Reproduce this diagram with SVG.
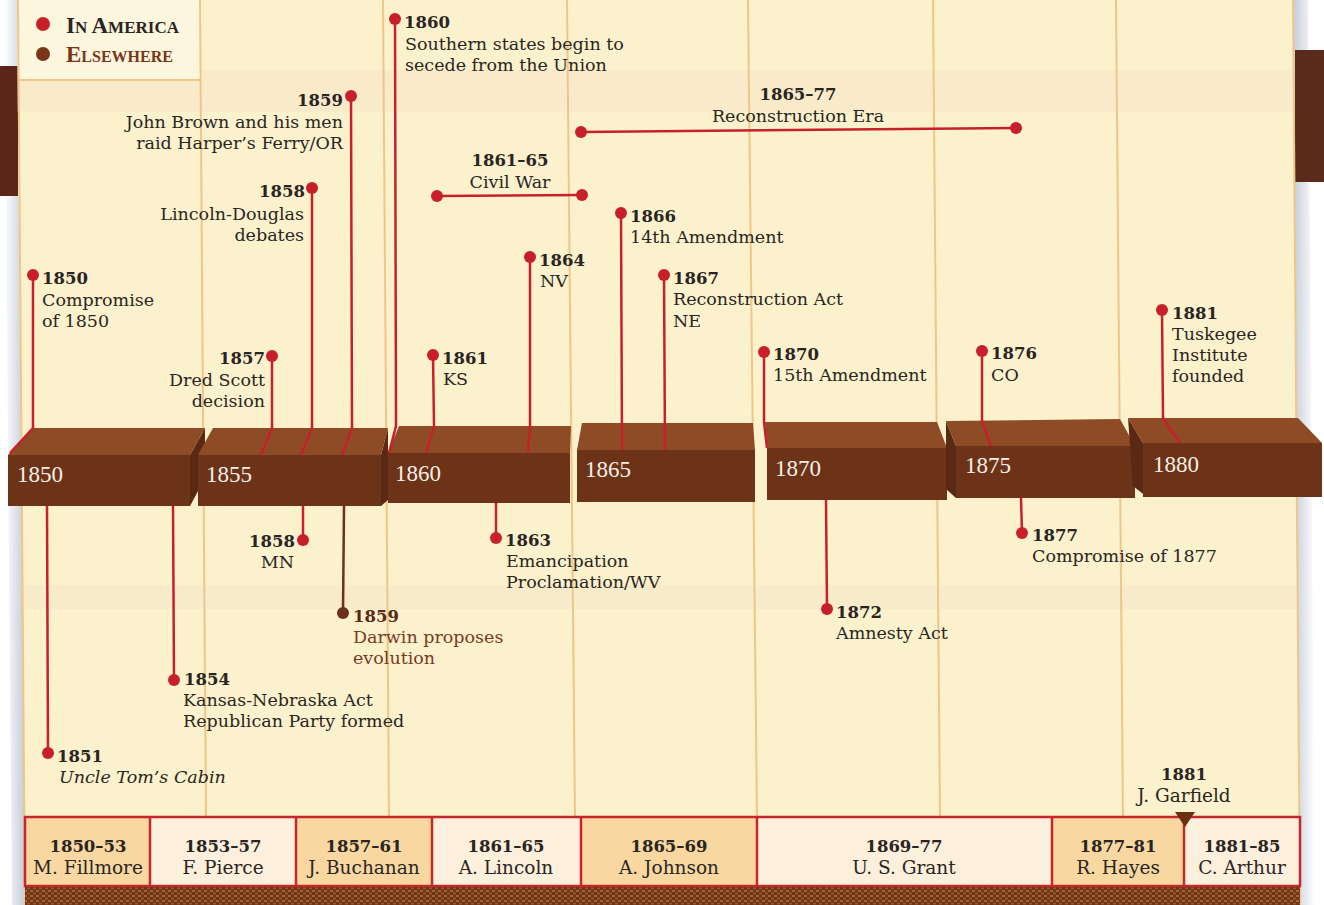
<svg xmlns="http://www.w3.org/2000/svg" width="1324" height="905" viewBox="0 0 1324 905">
<defs>
<style>
.t{font-family:'DejaVu Serif','Liberation Serif',serif;font-size:17.5px;fill:#2a2522}
.i{font-style:italic}
.y{font-family:'DejaVu Serif','Liberation Serif',serif;font-size:16.5px;font-weight:bold;fill:#2a2522}
.e{text-anchor:end}
.m{text-anchor:middle}
.bl{font-family:'Liberation Serif','Times New Roman',serif;font-size:23px;fill:#f7f0e6}
.dot{fill:#c8202a}
.con line,.con polyline{stroke:#c8202a;stroke-width:2.5;fill:none}
.con .br{stroke:#6e2f1c}
.grid line{stroke:#f0c687;stroke-width:2}
.top{fill:#8d4b26}
.front{fill:#6c3318}
.side{fill:#5a2914}
.pc{stroke:#c9262c;stroke-width:2.5}
.po{fill:#f8d8a0}
.pl{fill:#fcefdb}
.py{font-family:'DejaVu Serif','Liberation Serif',serif;font-size:16.5px;font-weight:bold;fill:#2a2522;text-anchor:middle}
.pn{font-family:'DejaVu Serif','Liberation Serif',serif;font-size:18.5px;fill:#2a2522;text-anchor:middle}
.leg{font-family:'Liberation Serif','Times New Roman',serif;font-size:23px;font-weight:bold}
</style>
<pattern id="weave" width="6" height="5" patternUnits="userSpaceOnUse"><rect width="6" height="5" fill="#6f3417"/><rect x="0" y="0" width="3" height="2" fill="#a5662f"/><rect x="3" y="2.5" width="3" height="2" fill="#93552a"/></pattern>
<linearGradient id="lsh" x1="0" x2="1"><stop offset="0" stop-color="#ffffff"/><stop offset="1" stop-color="#c4ccd8"/></linearGradient>
<linearGradient id="rsh" x1="0" x2="1"><stop offset="0" stop-color="#c4ccd8"/><stop offset="1" stop-color="#ffffff"/></linearGradient>
</defs>

<rect width="1324" height="905" fill="#ffffff"/>
<polygon points="4,0 17,0 25,905 12,905" fill="url(#lsh)"/>
<polygon points="1293,0 1308,0 1315,905 1300,905" fill="url(#rsh)"/>
<rect x="0" y="66" width="18" height="130" fill="#5b2619"/>
<rect x="1295" y="50" width="29" height="132" fill="#5a2a1b"/>
<polygon points="17,0 1293,0 1300,905 25,905" fill="#fbf1cd"/>
<rect x="17" y="70" width="1278" height="42" fill="#f2d5bd" opacity="0.22"/>
<rect x="20" y="585" width="1278" height="24" fill="#f2d5bd" opacity="0.2"/>
<rect x="18" y="0" width="182" height="80" fill="#fdf6df"/>
<line x1="18" y1="80" x2="200" y2="80" stroke="#f0c687" stroke-width="2"/>

<g id="grid" class="grid">
<line x1="200" y1="0" x2="206" y2="818"/>
<line x1="383" y1="0" x2="389" y2="818"/>
<line x1="567" y1="0" x2="575" y2="818"/>
<line x1="748" y1="0" x2="757" y2="818"/>
<line x1="933" y1="0" x2="940" y2="818"/>
<line x1="1116" y1="0" x2="1123" y2="818"/>
<line x1="18" y1="0" x2="25" y2="905"/>
<line x1="1293" y1="0" x2="1300" y2="905"/>
</g>

<g id="legend">
<circle cx="43" cy="24" r="7" class="dot"/>
<text x="66" y="33" class="leg" fill="#2a2522">I<tspan font-size="17">N </tspan>A<tspan font-size="17">MERICA</tspan></text>
<circle cx="43" cy="54" r="7" fill="#7a3519"/>
<text x="66" y="62" class="leg" fill="#7a3519">E<tspan font-size="16">LSEWHERE</tspan></text>
</g>

<g id="timeline">
<g id="b1850"><polygon class="side" points="190,455 205,428 205,478 190,506"/><polygon class="top" points="8,455 190,455 205,428 32,428"/><rect class="front" x="8" y="455" width="182" height="51"/><text class="bl" x="17" y="482">1850</text></g>
<g id="b1855"><polygon class="side" points="381,455 388,428 388,500 381,506"/><polygon class="top" points="198,455 381,455 388,428 213,428"/><rect class="front" x="198" y="455" width="183" height="51"/><text class="bl" x="206" y="482">1855</text></g>
<g id="b1860"><polygon class="top" points="388,453 570,453 571,426 399,426"/><rect class="front" x="388" y="453" width="182" height="50"/><text class="bl" x="395" y="481">1860</text></g>
<g id="b1865"><polygon class="top" points="577,450 755,450 753,423 582,423"/><rect class="front" x="577" y="450" width="178" height="52"/><text class="bl" x="585" y="477">1865</text></g>
<g id="b1870"><polygon class="top" points="767,448 947,448 937,422 765,422"/><rect class="front" x="767" y="448" width="180" height="52"/><text class="bl" x="775" y="476">1870</text></g>
<g id="b1875"><polygon class="side" points="946,421 956,446 956,498 946,489"/><polygon class="top" points="946,421 1120,419 1135,446 956,446"/><rect class="front" x="956" y="446" width="179" height="52"/><text class="bl" x="965" y="473">1875</text></g>
<g id="b1880"><polygon class="side" points="1128,418 1143,443 1147,497 1133,486"/><polygon class="top" points="1128,418 1298,418 1322,443 1143,443"/><rect class="front" x="1143" y="443" width="179" height="54"/><text class="bl" x="1153" y="472">1880</text></g>
</g>

<g id="connectors" class="con">
<polyline points="33,275 33,428 10,453"/>
<polyline points="272,356 272,428 261,455"/>
<polyline points="312,188 312,428 301,455"/>
<polyline points="351,96 352,428 342,455"/>
<polyline points="395,19 396,426 389,453"/>
<polyline points="433,355 434,426 426,453"/>
<line x1="437" y1="196" x2="582" y2="195"/>
<polyline points="530,257 530,426 528,453"/>
<line x1="581" y1="132" x2="1016" y2="128"/>
<polyline points="621,213 622,450"/>
<polyline points="664,275 665,450"/>
<polyline points="764,352 764,422 767,448"/>
<polyline points="982,351 982,421 991,446"/>
<polyline points="1162,310 1163,418 1180,443"/>
<line x1="47" y1="506" x2="48" y2="753"/>
<line x1="173" y1="506" x2="174" y2="680"/>
<line x1="303" y1="506" x2="303" y2="540"/>
<line class="br" x1="344" y1="506" x2="343" y2="613"/>
<line x1="496" y1="503" x2="496" y2="538"/>
<line x1="826" y1="500" x2="827" y2="609"/>
<line x1="1021" y1="498" x2="1022" y2="533"/>
</g>

<g id="n1850"><circle cx="33" cy="275" r="6" class="dot"/><text class="y" x="42" y="284">1850</text><text class="t" x="42" y="306">Compromise</text><text class="t" x="42" y="327">of 1850</text></g>
<g id="n1857"><circle cx="272" cy="356" r="6" class="dot"/><text class="y e" x="265" y="364">1857</text><text class="t e" x="265" y="386">Dred Scott</text><text class="t e" x="265" y="407">decision</text></g>
<g id="n1858a"><circle cx="312" cy="188" r="6" class="dot"/><text class="y e" x="305" y="197">1858</text><text class="t e" x="304" y="220">Lincoln-Douglas</text><text class="t e" x="304" y="241">debates</text></g>
<g id="n1859a"><circle cx="351" cy="96" r="6" class="dot"/><text class="y e" x="343" y="106">1859</text><text class="t e" x="343" y="128">John Brown and his men</text><text class="t e" x="343" y="149">raid Harper’s Ferry/OR</text></g>
<g id="n1860"><circle cx="395" cy="19" r="6" class="dot"/><text class="y" x="404" y="28">1860</text><text class="t" x="405" y="50">Southern states begin to</text><text class="t" x="405" y="71">secede from the Union</text></g>
<g id="n1861"><circle cx="433" cy="355" r="6" class="dot"/><text class="y" x="442" y="364">1861</text><text class="t" x="443" y="385">KS</text></g>
<g id="ncivilwar"><circle cx="437" cy="196" r="6" class="dot"/><circle cx="582" cy="195" r="6" class="dot"/><text class="y m" x="510" y="166">1861–65</text><text class="t m" x="510" y="188">Civil War</text></g>
<g id="n1864"><circle cx="530" cy="257" r="6" class="dot"/><text class="y" x="539" y="266">1864</text><text class="t" x="540" y="287">NV</text></g>
<g id="nreconstruction"><circle cx="581" cy="132" r="6" class="dot"/><circle cx="1016" cy="128" r="6" class="dot"/><text class="y m" x="798" y="100">1865–77</text><text class="t m" x="798" y="122">Reconstruction Era</text></g>
<g id="n1866"><circle cx="621" cy="213" r="6" class="dot"/><text class="y" x="630" y="222">1866</text><text class="t" x="630" y="243">14th Amendment</text></g>
<g id="n1867"><circle cx="664" cy="275" r="6" class="dot"/><text class="y" x="673" y="284">1867</text><text class="t" x="673" y="305">Reconstruction Act</text><text class="t" x="673" y="327">NE</text></g>
<g id="n1870"><circle cx="764" cy="352" r="6" class="dot"/><text class="y" x="773" y="360">1870</text><text class="t" x="773" y="381">15th Amendment</text></g>
<g id="n1876"><circle cx="982" cy="351" r="6" class="dot"/><text class="y" x="991" y="359">1876</text><text class="t" x="991" y="381">CO</text></g>
<g id="n1881"><circle cx="1162" cy="310" r="6" class="dot"/><text class="y" x="1172" y="319">1881</text><text class="t" x="1172" y="340">Tuskegee</text><text class="t" x="1172" y="361">Institute</text><text class="t" x="1172" y="382">founded</text></g>

<g id="n1851"><circle cx="48" cy="753" r="6" class="dot"/><text class="y" x="57" y="762">1851</text><text class="t i" x="59" y="783">Uncle Tom’s Cabin</text></g>
<g id="n1854"><circle cx="174" cy="680" r="6" class="dot"/><text class="y" x="184" y="685">1854</text><text class="t" x="183" y="706">Kansas-Nebraska Act</text><text class="t" x="183" y="727">Republican Party formed</text></g>
<g id="n1858b"><circle cx="303" cy="540" r="6" class="dot"/><text class="y e" x="295" y="547">1858</text><text class="t e" x="294" y="568">MN</text></g>
<g id="n1859b"><circle cx="343" cy="613" r="6" fill="#6e2f1c"/><text class="y" x="353" y="622" style="fill:#5b2a1a">1859</text><text class="t" x="353" y="643" style="fill:#7a3a1e">Darwin proposes</text><text class="t" x="353" y="664" style="fill:#7a3a1e">evolution</text></g>
<g id="n1863"><circle cx="496" cy="538" r="6" class="dot"/><text class="y" x="505" y="546">1863</text><text class="t" x="506" y="567">Emancipation</text><text class="t" x="506" y="588">Proclamation/WV</text></g>
<g id="n1872"><circle cx="827" cy="609" r="6" class="dot"/><text class="y" x="836" y="618">1872</text><text class="t" x="836" y="639">Amnesty Act</text></g>
<g id="n1877"><circle cx="1022" cy="533" r="6" class="dot"/><text class="y" x="1032" y="541">1877</text><text class="t" x="1032" y="562">Compromise of 1877</text></g>

<g id="presidents">
<rect class="po" x="25" y="817" width="125" height="69"/>
<rect class="pl" x="150" y="817" width="146" height="69"/>
<rect class="po" x="296" y="817" width="136" height="69"/>
<rect class="pl" x="432" y="817" width="149" height="69"/>
<rect class="po" x="581" y="817" width="176" height="69"/>
<rect class="pl" x="757" y="817" width="295" height="69"/>
<rect class="po" x="1052" y="817" width="132" height="69"/>
<rect class="pl" x="1184" y="817" width="116" height="69"/>
<rect x="25" y="817" width="1275" height="69" fill="none" class="pc"/>
<g class="pc"><line x1="150" y1="817" x2="150" y2="886"/><line x1="296" y1="817" x2="296" y2="886"/><line x1="432" y1="817" x2="432" y2="886"/><line x1="581" y1="817" x2="581" y2="886"/><line x1="757" y1="817" x2="757" y2="886"/><line x1="1052" y1="817" x2="1052" y2="886"/><line x1="1184" y1="817" x2="1184" y2="886"/></g>
<text class="py" x="88" y="852">1850–53</text><text class="pn" x="88" y="874">M. Fillmore</text>
<text class="py" x="223" y="852">1853–57</text><text class="pn" x="223" y="874">F. Pierce</text>
<text class="py" x="364" y="852">1857–61</text><text class="pn" x="364" y="874">J. Buchanan</text>
<text class="py" x="506" y="852">1861–65</text><text class="pn" x="506" y="874">A. Lincoln</text>
<text class="py" x="669" y="852">1865–69</text><text class="pn" x="669" y="874">A. Johnson</text>
<text class="py" x="904" y="852">1869–77</text><text class="pn" x="904" y="874">U. S. Grant</text>
<text class="py" x="1118" y="852">1877–81</text><text class="pn" x="1118" y="874">R. Hayes</text>
<text class="py" x="1242" y="852">1881–85</text><text class="pn" x="1242" y="874">C. Arthur</text>
<rect x="25" y="887" width="1275" height="18" fill="url(#weave)"/>
</g>

<g id="garfield">
<text class="py" x="1184" y="780">1881</text>
<text class="pn" x="1184" y="802">J. Garfield</text>
<polygon points="1175,812 1195,812 1185,827" fill="#6b3012"/>
</g>
</svg>
